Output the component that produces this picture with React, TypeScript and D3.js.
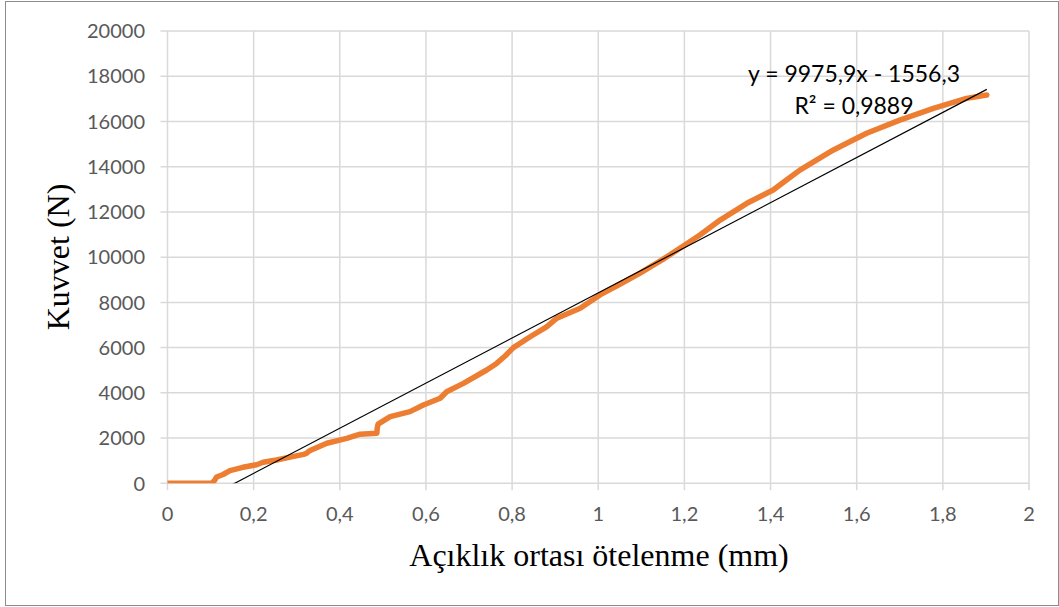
import React from "react";
import * as d3 from "d3";

const dispX = [0, 0.05, 0.102, 0.106, 0.11, 0.114, 0.129, 0.145, 0.175, 0.207, 0.222, 0.253, 0.29, 0.316, 0.323, 0.328, 0.335, 0.37, 0.416, 0.447, 0.486, 0.487, 0.489, 0.5, 0.517, 0.563, 0.594, 0.633, 0.648, 0.687, 0.741, 0.764, 0.785, 0.803, 0.842, 0.88, 0.904, 0.958, 1.004, 1.05, 1.097, 1.15, 1.201, 1.236, 1.283, 1.345, 1.406, 1.437, 1.468, 1.546, 1.623, 1.7, 1.778, 1.855, 1.902];
const forceY = [0, 0, 0, 60, 150, 280, 390, 560, 707, 820, 930, 1030, 1180, 1280, 1330, 1420, 1480, 1770, 1990, 2170, 2210, 2450, 2620, 2750, 2950, 3170, 3460, 3760, 4050, 4420, 5010, 5300, 5650, 6000, 6480, 6920, 7300, 7740, 8330, 8800, 9290, 9900, 10540, 10980, 11640, 12380, 12970, 13410, 13850, 14740, 15480, 16060, 16580, 17020, 17170];

const xTicks = [0, 0.2, 0.4, 0.6, 0.8, 1, 1.2, 1.4, 1.6, 1.8, 2];
const yTicks = [0, 2000, 4000, 6000, 8000, 10000, 12000, 14000, 16000, 18000, 20000];

const slope = 9975.9;
const intercept = -1556.3;
const trendRange = [0, 1.902];

const W = 1059;
const H = 607;
const plot = { left: 167.5, right: 1029, top: 31, bottom: 483.3 };

const fmt = (v: number) => String(v).replace(".", ",");

export default function App() {
  const x = d3.scaleLinear().domain([0, 2]).range([plot.left, plot.right]);
  const y = d3.scaleLinear().domain([0, 20000]).range([plot.bottom, plot.top]);

  const pts = dispX.map((d, i) => [d, forceY[i]] as [number, number]);
  const line = d3
    .line<[number, number]>()
    .x((d) => x(d[0]))
    .y((d) => y(d[1]));

  const t0 = trendRange[0];
  const t1 = trendRange[1];
  const trendPts: [number, number][] = [
    [t0, slope * t0 + intercept],
    [t1, slope * t1 + intercept],
  ];

  const tickFont = "Lato, 'Open Sans', sans-serif";
  const titleFont = "'Liberation Serif', 'Times New Roman', serif";

  return (
    <svg width={W} height={H} style={{ position: "absolute", left: 0, top: 0 }}>
      <rect x={0} y={0} width={W} height={H} fill="#fff" />
      <rect x={5.5} y={1.5} width={1053} height={604} fill="#fff" stroke="#8c8c8c" strokeWidth={1} />
      <defs>
        <clipPath id="plotclip">
          <rect x={plot.left} y={plot.top} width={plot.right - plot.left} height={plot.bottom - plot.top} />
        </clipPath>
      </defs>
      {xTicks.map((t) => (
        <line key={"vx" + t} x1={x(t)} x2={x(t)} y1={plot.top} y2={plot.bottom + 7} stroke="#d9d9d9" strokeWidth={1.5} />
      ))}
      {yTicks.map((t) => (
        <line key={"hy" + t} x1={plot.left - 7} x2={plot.right} y1={y(t)} y2={y(t)} stroke="#d9d9d9" strokeWidth={1.5} />
      ))}
      {yTicks.map((t) => (
        <text key={"yl" + t} x={145} y={y(t)} dy="0.36em" textAnchor="end" fontFamily={tickFont} fontSize={20} fill="#595959">
          {t}
        </text>
      ))}
      {xTicks.map((t) => (
        <text key={"xl" + t} x={x(t)} y={521} textAnchor="middle" fontFamily={tickFont} fontSize={20} fill="#595959">
          {fmt(t)}
        </text>
      ))}
      <g clipPath="url(#plotclip)">
        <path d={line(pts) || ""} fill="none" stroke="#ED7D31" strokeWidth={5.5} strokeLinejoin="round" strokeLinecap="round" />
        <path d={line(trendPts) || ""} fill="none" stroke="#000" strokeWidth={1.2} />
      </g>
      <text x={854} y={82} textAnchor="middle" fontFamily={tickFont} fontSize={23} fill="#000">
        y = 9975,9x - 1556,3
      </text>
      <text x={854} y={114} textAnchor="middle" fontFamily={tickFont} fontSize={23} fill="#000">
        R² = 0,9889
      </text>
      <text x={599} y={566} textAnchor="middle" fontFamily={titleFont} fontSize={32} fill="#000">
        Açıklık ortası ötelenme (mm)
      </text>
      <text transform="translate(69,257) rotate(-90)" textAnchor="middle" fontFamily={titleFont} fontSize={32} fill="#000">
        Kuvvet (N)
      </text>
    </svg>
  );
}
